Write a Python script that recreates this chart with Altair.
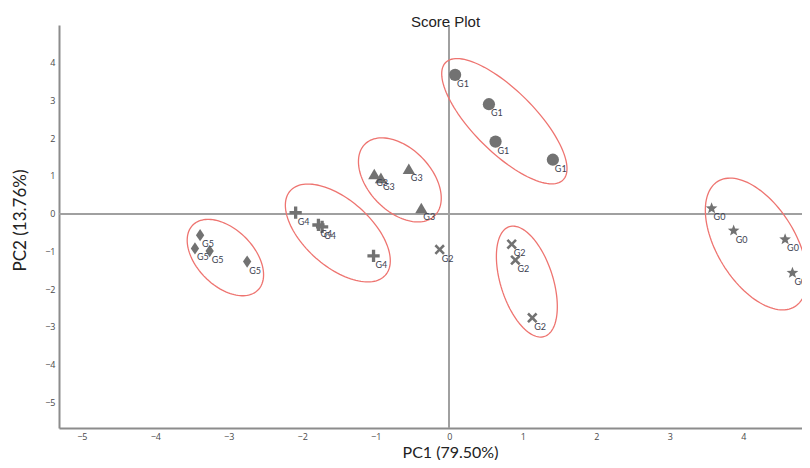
import math
import altair as alt
import pandas as pd

# ---- data ----
groups = ["G0", "G1", "G2", "G3", "G4", "G5"]
pt_group = (["G1"] * 4 + ["G3"] * 4 + ["G4"] * 4 + ["G5"] * 4 + ["G2"] * 4 + ["G0"] * 4)
pc1 = [0.08, 0.54, 0.63, 1.41,
       -1.02, -0.93, -0.55, -0.38,
       -2.09, -1.78, -1.73, -1.03,
       -3.39, -3.46, -3.26, -2.75,
       -0.13, 0.85, 0.90, 1.13,
       3.57, 3.87, 4.57, 4.67]
pc2 = [3.68, 2.90, 1.91, 1.43,
       1.05, 0.95, 1.19, 0.15,
       0.03, -0.30, -0.35, -1.12,
       -0.57, -0.92, -0.99, -1.27,
       -0.95, -0.81, -1.23, -2.76,
       0.14, -0.45, -0.68, -1.57]

# confidence ellipses: centre (PC1, PC2), semi-axes (in PC1 units), angle (deg, screen)
ell_group = ["G1", "G3", "G4", "G5", "G2", "G0"]
ell_cx = [0.750, -0.672, -1.516, -3.046, 1.056, 4.178]
ell_cy = [2.45, 0.895, -0.512, -1.163, -1.80, -0.804]
ell_a = [1.13, 0.68, 0.865, 0.626, 0.784, 1.00]
ell_b = [0.42, 0.427, 0.453, 0.385, 0.356, 0.533]
ell_ang = [45, 46, 41.5, 45, 72.3, 58.4]

x_ticks = [-5, -4, -3, -2, -1, 0, 1, 2, 3, 4]
y_ticks = [-5, -4, -3, -2, -1, 0, 1, 2, 3, 4, 5]
x_dom = [-5.31, 4.80]
y_dom = [-5.68, 5.0]

W, H = 743, 403
ux = W / (x_dom[1] - x_dom[0])
uy = H / (y_dom[1] - y_dom[0])

pts = pd.DataFrame({"group": pt_group, "pc1": pc1, "pc2": pc2})

rows = []
for g, cx, cy, a, b, ang in zip(ell_group, ell_cx, ell_cy, ell_a, ell_b, ell_ang):
    th = math.radians(ang)
    ap, bp = a * ux, b * ux
    for i in range(121):
        t = 2 * math.pi * i / 120
        dxp = ap * math.cos(t) * math.cos(th) - bp * math.sin(t) * math.sin(th)
        dyp = ap * math.cos(t) * math.sin(th) + bp * math.sin(t) * math.cos(th)
        rows.append({"group": g, "i": i, "pc1": cx + dxp / ux, "pc2": cy - dyp / uy})
ell = pd.DataFrame(rows)

# symbol shapes (unit box)
def star_path():
    p = []
    for k in range(10):
        r = 1.0 if k % 2 == 0 else 0.42
        ang = -math.pi / 2 + k * math.pi / 5
        p.append(f"{r*math.cos(ang):.3f},{r*math.sin(ang):.3f}")
    return "M" + " L".join(p) + " Z"

xmark = ("M-0.85,-0.55 L-0.55,-0.85 L0,-0.3 L0.55,-0.85 L0.85,-0.55 L0.3,0 "
         "L0.85,0.55 L0.55,0.85 L0,0.3 L-0.55,0.85 L-0.85,0.55 L-0.3,0 Z")
plus = ("M-1,-0.27 L-0.27,-0.27 L-0.27,-1 L0.27,-1 L0.27,-0.27 L1,-0.27 L1,0.27 "
        "L0.27,0.27 L0.27,1 L-0.27,1 L-0.27,0.27 L-1,0.27 Z")
diamond = "M0,-1 L0.68,0 L0,1 L-0.68,0 Z"
shapes = [star_path(), "circle", xmark, "triangle-up", plus, diamond]

xs = alt.Scale(domain=x_dom, nice=False, zero=False)
ys = alt.Scale(domain=y_dom, nice=False, zero=False)

xax = alt.Axis(values=x_ticks, title="PC1 (79.50%)", ticks=False, labelPadding=4, format="d",
               titleX=391, titleY=24, titleBaseline="middle", titleFontSize=16)
yax = alt.Axis(values=y_ticks, title="PC2 (13.76%)", ticks=False, labelPadding=4, format="d",
               labelExpr="datum.value == 5 ? '' : datum.label",
               titleX=-39, titleY=195, titleBaseline="middle", titleAlign="center")

base_x = alt.X("pc1:Q", scale=xs, axis=xax)
base_y = alt.Y("pc2:Q", scale=ys, axis=yax)

zero_v = alt.Chart(pts).mark_rule(color="#a0a0a0", strokeWidth=1).encode(x=alt.datum(0, scale=xs))
zero_h = alt.Chart(pts).mark_rule(color="#a0a0a0", strokeWidth=1).encode(y=alt.datum(0, scale=ys))

ellipses = alt.Chart(ell).mark_line(color="#ee7470", strokeWidth=1.3).encode(
    x=base_x, y=base_y, detail="group:N", order="i:Q")

points = alt.Chart(pts).mark_point(filled=True, opacity=1, color="#727272", strokeWidth=0).encode(
    x=base_x, y=base_y,
    shape=alt.Shape("group:N", scale=alt.Scale(domain=groups, range=shapes), legend=None),
    size=alt.value(150))

labels = alt.Chart(pts).mark_text(align="left", baseline="alphabetic", dx=2, dy=12,
                                  fontSize=9, font="Lato", color="#3b4150").encode(
    x=base_x, y=base_y, text="group:N")

chart = alt.layer(zero_v, zero_h, ellipses, points, labels).properties(
    width=W, height=H,
    title=alt.TitleParams("Score Plot", fontSize=15, font="Liberation Sans", fontWeight="normal",
                          color="#222", offset=4, baseline="middle", anchor="middle", dx=15, dy=16),
    autosize=alt.AutoSizeParams(type="none"),
    padding={"left": 51, "top": 17, "right": 0, "bottom": 32},
).configure_view(stroke=None).configure_axis(
    gridColor="#e4e4e4", gridWidth=1, domainColor="#8c8c8c", domainWidth=2,
    labelFont="Open Sans", labelFontSize=9, labelColor="#4a4a4a",
    titleFont="Lato", titleFontSize=17, titleFontWeight="normal", titleColor="#222",
)

chart.save("out.html", embed_options={"renderer": "svg", "actions": False})
